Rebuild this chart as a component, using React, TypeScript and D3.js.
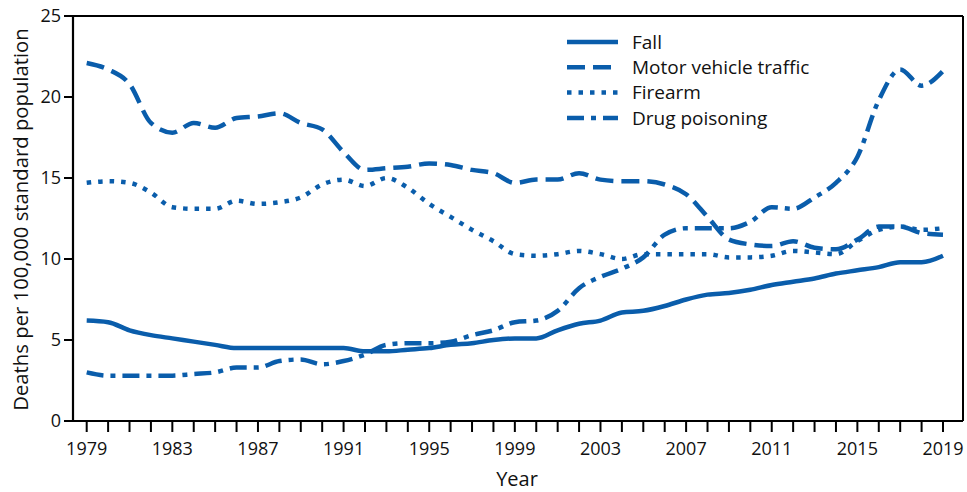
import React from "react";
import * as d3 from "d3";

const years = d3.range(1979, 2020);
const fall = [6.2, 6.1, 5.6, 5.3, 5.1, 4.9, 4.7, 4.5, 4.5, 4.5, 4.5, 4.5, 4.5, 4.3, 4.3, 4.4, 4.5, 4.7, 4.8, 5.0, 5.1, 5.1, 5.6, 6.0, 6.2, 6.7, 6.8, 7.1, 7.5, 7.8, 7.9, 8.1, 8.4, 8.6, 8.8, 9.1, 9.3, 9.5, 9.8, 9.8, 10.2];
const motorVehicle = [22.1, 21.7, 20.8, 18.4, 17.8, 18.4, 18.1, 18.7, 18.8, 19.0, 18.4, 18.0, 16.6, 15.5, 15.6, 15.7, 15.9, 15.8, 15.5, 15.3, 14.7, 14.9, 14.9, 15.3, 14.9, 14.8, 14.8, 14.6, 14.0, 12.6, 11.2, 10.9, 10.8, 11.1, 10.7, 10.6, 11.2, 12.0, 12.0, 11.6, 11.5];
const firearm = [14.7, 14.8, 14.7, 14.1, 13.2, 13.1, 13.1, 13.6, 13.4, 13.5, 13.8, 14.6, 14.9, 14.5, 15.0, 14.4, 13.4, 12.6, 11.8, 11.1, 10.3, 10.2, 10.3, 10.5, 10.3, 10.0, 10.3, 10.3, 10.3, 10.3, 10.1, 10.1, 10.2, 10.5, 10.4, 10.3, 11.1, 11.8, 12.0, 11.8, 11.9];
const drugPoisoning = [3.0, 2.8, 2.8, 2.8, 2.8, 2.9, 3.0, 3.3, 3.3, 3.7, 3.8, 3.5, 3.7, 4.1, 4.7, 4.8, 4.8, 4.9, 5.3, 5.6, 6.1, 6.2, 6.8, 8.2, 8.9, 9.4, 10.1, 11.5, 11.9, 11.9, 11.9, 12.3, 13.2, 13.1, 13.8, 14.7, 16.3, 19.8, 21.7, 20.7, 21.6];
const seriesNames = ["Fall", "Motor vehicle traffic", "Firearm", "Drug poisoning"];
const xTickLabels = [1979, 1983, 1987, 1991, 1995, 1999, 2003, 2007, 2011, 2015, 2019];
const yTicks = [0, 5, 10, 15, 20, 25];

const COLOR = "#0a5dab";
const FONT = "'Open Sans', 'Noto Sans', sans-serif";
const dashes = ["none", "18 8", "4.5 7", "17 7 5 7"];

export default function App() {
  const W = 967, H = 492;
  const left = 73, right = 963, top = 16, bottom = 421;
  const x = d3.scaleLinear().domain([1979, 2019]).range([86.7, 943]);
  const y = d3.scaleLinear().domain([0, 25]).range([bottom, top]);
  const line = d3.line<number>().x((_, i) => x(years[i])).y((d) => y(d)).curve(d3.curveMonotoneX);
  const data = [fall, motorVehicle, firearm, drugPoisoning];

  return (
    <svg width={W} height={H} style={{ position: "absolute", left: 0, top: 0, background: "#fff" }} fontFamily={FONT}>
      <rect x={0} y={0} width={W} height={H} fill="#fff" />
      {/* frame */}
      <line x1={left} x2={right} y1={top} y2={top} stroke="#000" strokeWidth={2} />
      <line x1={right} x2={right} y1={top} y2={bottom} stroke="#000" strokeWidth={2} />
      <line x1={left} x2={left} y1={top} y2={bottom + 1} stroke="#000" strokeWidth={2.2} />
      <line x1={left} x2={right} y1={bottom} y2={bottom} stroke="#000" strokeWidth={2.2} />
      {/* y ticks */}
      {yTicks.map((t) => (
        <g key={t}>
          <line x1={left - 9} x2={left} y1={y(t)} y2={y(t)} stroke="#000" strokeWidth={2} />
          <text x={left - 12} y={y(t)} dy="0.36em" textAnchor="end" fontSize={18} fill="#111">{t}</text>
        </g>
      ))}
      {/* x ticks */}
      {years.map((yr) => (
        <line key={yr} x1={x(yr)} x2={x(yr)} y1={bottom} y2={bottom + 11} stroke="#000" strokeWidth={2} />
      ))}
      {xTickLabels.map((yr) => (
        <text key={yr} x={x(yr)} y={455} textAnchor="middle" fontSize={18} fill="#111">{yr}</text>
      ))}
      <text x={517} y={486} textAnchor="middle" fontSize={20} fill="#111">Year</text>
      <text transform={`translate(28,${(top + bottom) / 2 + 1}) rotate(-90)`} textAnchor="middle" fontSize={20.3} fill="#111">
        Deaths per 100,000 standard population
      </text>
      {/* lines */}
      {data.map((d, i) => (
        <path key={i} d={line(d) || ""} fill="none" stroke={COLOR} strokeWidth={4.5} strokeDasharray={dashes[i]} />
      ))}
      {/* legend */}
      {seriesNames.map((n, i) => {
        const ly = 42 + i * 25.3;
        return (
          <g key={n}>
            <line x1={567} x2={618} y1={ly} y2={ly} stroke={COLOR} strokeWidth={4.5} strokeDasharray={dashes[i]} />
            <text x={632} y={ly} dy="0.36em" fontSize={19} fill="#111">{n}</text>
          </g>
        );
      })}
    </svg>
  );
}
